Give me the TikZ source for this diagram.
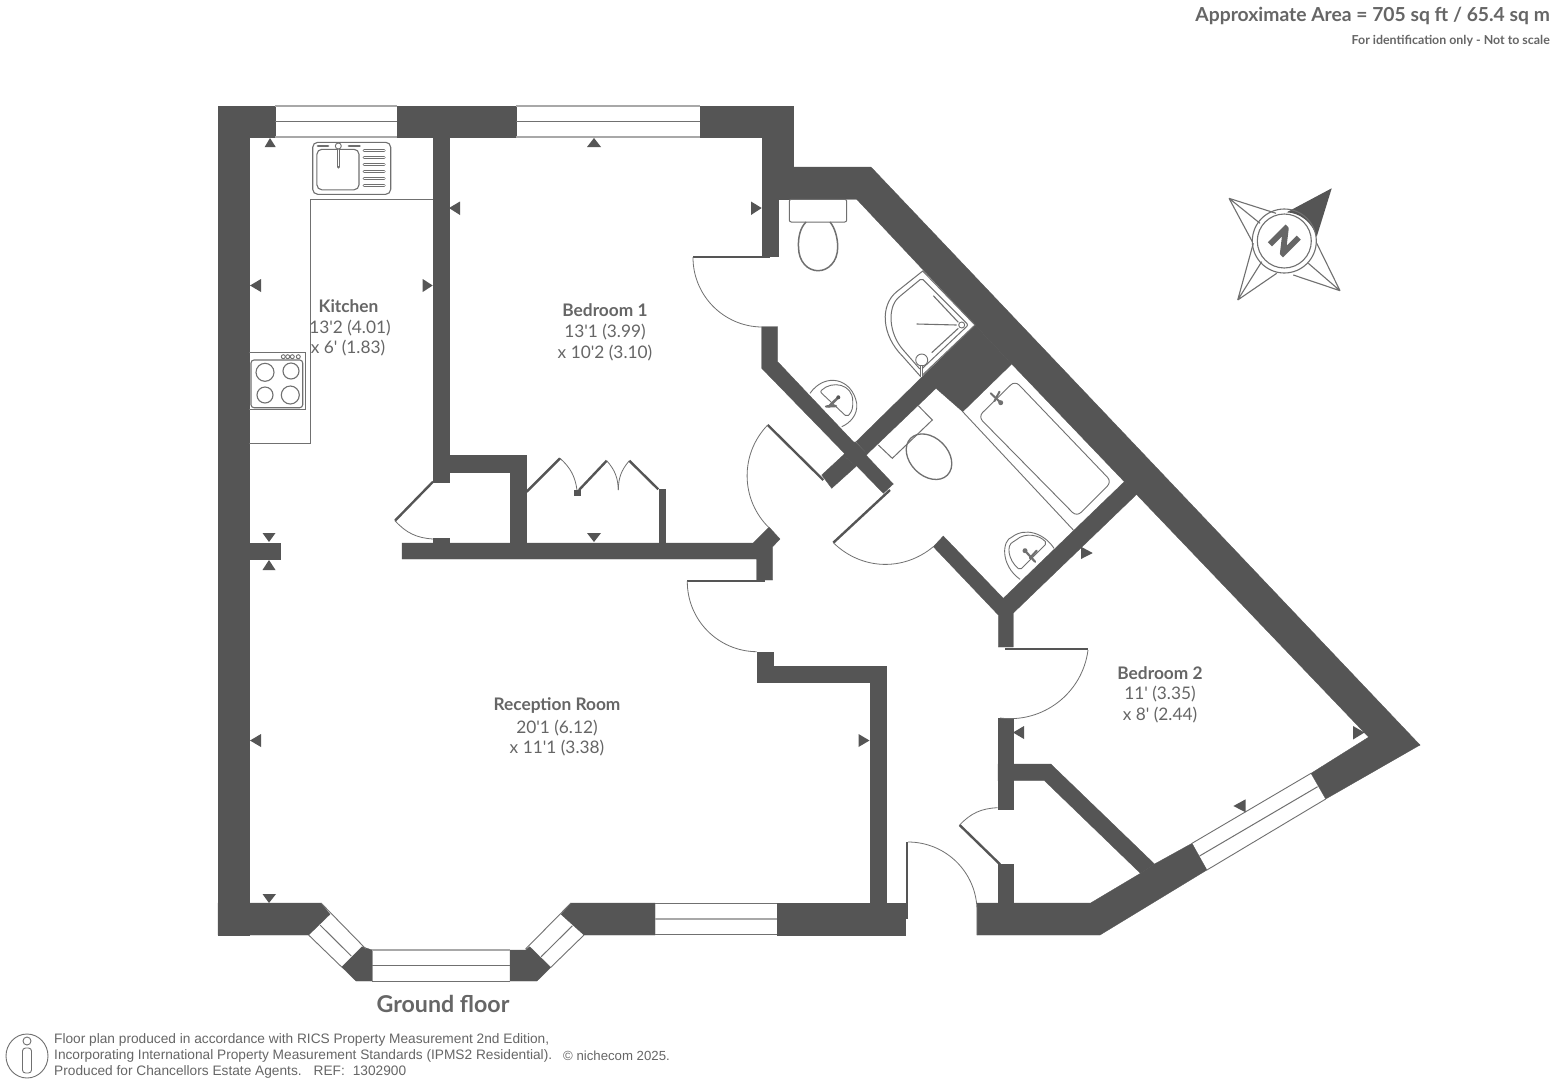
\documentclass[tikz,border=0pt]{standalone}
\usepackage{fontspec}
\setmainfont{Lato}[Ligatures=TeXOff]
\newfontfamily\footfont{Liberation Sans}
\newfontfamily\compassfont{Lato}[BoldFeatures={FakeBold=6}]
\definecolor{wallc}{HTML}{555555}
\definecolor{textc}{HTML}{666666}
\definecolor{fixc}{HTML}{707070}
\definecolor{glasspale}{HTML}{A8A8A8}
\tikzset{
  wallfill/.style={fill=wallc,draw=wallc,line width=0.3pt},
  glass/.style={draw=fixc,line width=0.9pt},
  glasslight/.style={draw=glasspale,line width=1.2pt},
  glassmid/.style={draw=fixc,line width=1pt},
  fixline/.style={draw=fixc,line width=0.9pt},
  fixthick/.style={draw=fixc,line width=1.5pt},
  leaf/.style={draw=wallc,line width=2.4pt},
  swing/.style={draw=fixc,line width=0.8pt},
  marker/.style={fill=wallc,draw=none},
  roomname/.style={font=\fontsize{17.3}{19}\selectfont\bfseries,text=textc,inner sep=0pt},
  roomdim/.style={font=\fontsize{17.3}{19}\selectfont,text=textc,inner sep=0pt},
}
\begin{document}
\begin{tikzpicture}[x=1pt,y=-1pt]
\fill[white] (0,0) rectangle (1552,1085);
\useasboundingbox (0,0) rectangle (1552,1085);
% ---- walls
\path[wallfill] (218,106) rectangle (249,543);
\path[wallfill] (218,543) rectangle (280,559);
\path[wallfill] (218,559) rectangle (249,934.8);
\path[wallfill] (218,106) rectangle (275,137);
\path[wallfill] (397,106) rectangle (516,137);
\path[wallfill] (700,106) rectangle (793,137);
\path[wallfill] (433,137) rectangle (449,482);
\path[wallfill] (433,455) rectangle (526,472);
\path[wallfill] (510,455) rectangle (526,545);
\path[wallfill] (433,538) rectangle (449,545);
\path[wallfill] (574.5,490) rectangle (580,495);
\path[wallfill] (402,543) -- (753,543) -- (769,527) -- (780,539) -- (772.7,546.7) -- (772.7,580) -- (756.7,580) -- (756.7,559) -- (402,559) -- cycle;
\path[wallfill] (659,489) rectangle (665,545);
\path[wallfill] (756.7,652) rectangle (772.7,682);
\path[wallfill] (756.7,666.5) rectangle (886,682);
\path[wallfill] (870,666.5) rectangle (886,905);
% bottom and bay
\path[wallfill] (218,903) -- (321,903) -- (330,914.3) -- (308.6,935) -- (218,935) -- cycle;
\path[wallfill] (362,946.7) -- (372.4,950) -- (372.4,981) -- (356,981) -- (341.7,967) -- cycle;
\path[wallfill] (510,950) -- (525.6,950) -- (529.7,946.7) -- (550.8,967.3) -- (537,981) -- (510,981) -- cycle;
\path[wallfill] (571,903) -- (655,903) -- (655,935) -- (584,935) -- (561,914.3) -- cycle;
\path[wallfill] (777,903) rectangle (905,935);
% right side
\path[wallfill] (761.7,137) rectangle (777.7,256);
\path[wallfill] (761.7,137) rectangle (793,199.3);
\path[wallfill] (793,167) -- (871,167) -- (1420,745) -- (1360,760) -- (1368.5,737) -- (1124.3,481.7) -- (1011.7,364) -- (975,325) -- (856.7,199.3) -- (785,199.3) -- (785,167) -- cycle;
\path[wallfill] (975,325) -- (1011.7,364) -- (962.7,411.7) -- (936,388.3) -- (867.3,454) -- (856,441.7) -- cycle;
\path[wallfill] (761.7,326.7) -- (777.7,326.7) -- (777.7,361.7) -- (893.3,484) -- (883.3,493.3) -- (761.7,368.3) -- cycle;
\path[wallfill] (821.7,475) -- (843.3,455) -- (855.7,466.7) -- (831.7,488.3) -- cycle;
\path[wallfill] (843.3,455) -- (855,441.7) -- (867.3,454) -- (855.7,466.7) -- cycle;
% bathroom / bedroom 2 wall
\path[wallfill] (1124.3,481.7) -- (1137,494) -- (1013.3,613) -- (1003.3,598.3) -- cycle;
\path[wallfill] (943.3,536) -- (1003.3,598.3) -- (1013.3,609) -- (1013.3,647) -- (998.3,647) -- (998.3,615) -- (933.3,546.7) -- cycle;
\path[wallfill] (998,718) rectangle (1013,809);
\path[wallfill] (998,864.3) rectangle (1013,905);
\path[wallfill] (998,764) -- (1050.8,764) -- (1154.5,864) -- (1140.4,873.3) -- (1044.5,780.7) -- (998,780.7) -- cycle;
\path[wallfill] (977,903) -- (1090.6,903) -- (1140.4,873.3) -- (1154.5,864) -- (1192,843.3) -- (1206.9,870) -- (1100,935) -- (977,935) -- cycle;
\path[wallfill] (1311,773.3) -- (1369.3,736.7) -- (1420,745) -- (1325.7,799) -- cycle;
% ---- door leaves
\draw[leaf] (693,257) -- (770,257);
\draw[leaf] (433,481.7) -- (395,520.7);
\draw[leaf] (526.7,491.7) -- (560,458.3);
\draw[leaf] (579,490) -- (606.7,460.7);
\draw[leaf] (629.3,460.7) -- (658.3,489.3);
\draw[leaf] (767.7,425) -- (823.3,480);
\draw[leaf] (833.3,542.7) -- (890,490);
\draw[leaf] (687,581) -- (765,581);
\draw[leaf] (1005,649) -- (1088,649);
\draw[leaf] (959.6,825) -- (1000,864.3);
\draw[leaf] (907,842) -- (907,919);
% ---- door swings
\draw[swing] (693,257) to[bend right=45] (762,327);
\draw[swing] (395,520.7) to[bend right=22] (433,539);
\draw[swing] (560,458.3) to[bend left=20] (577,490);
\draw[swing] (606.7,460.7) to[bend left=20] (618.3,490);
\draw[swing] (629.3,460.7) to[bend right=20] (618.3,490);
\draw[swing] (767.7,425) to[bend right=45] (769.3,528);
\draw[swing] (833.3,542.7) to[bend right=42] (933.3,546.7);
\draw[swing] (687.3,581) to[bend right=45] (756.7,651.7);
\draw[swing] (1088,650) to[bend left=45] (1000,718);
\draw[swing] (959.6,825) to[bend left=22] (997.6,807.7);
\draw[swing] (908,842) to[bend left=45] (977,911) -- (977,935);
% ---- windows
\foreach \xa/\xb in {275/397, 516/700}{
  \draw[glasslight] (\xa,106) -- (\xb,106);
  \draw[glasslight] (\xa,137) -- (\xb,137);
  \draw[glassmid] (\xa,121) -- (\xb,121);
}
\draw[glass] (655,903.5) -- (777,903.5);
\draw[glass] (655,934.5) -- (777,934.5);
\draw[glasslight] (655,919) -- (777,919);
\draw[glasslight] (372.4,950) -- (510,950);
\draw[glass] (372.4,981) -- (510,981);
\draw[glassmid] (372.4,965) -- (510,965);
\draw[glass] (321,903) -- (366,949);
\draw[glass] (308.6,935) -- (341.7,967);
\draw[glassmid] (320,925) -- (351.3,956);
\draw[glass] (525.6,949) -- (571,903);
\draw[glass] (550.8,967.3) -- (584,935);
\draw[glassmid] (541.2,956.7) -- (572.4,925.7);
\draw[glass] (1192,843.3) -- (1311,773.3);
\draw[glass] (1206.9,870) -- (1325.7,799);
\draw[glassmid] (1199.5,856) -- (1317.6,786.7);
% ---- kitchen fittings
\draw[fixline] (433,199) -- (310,199) -- (310,443) -- (249,443);
\draw[fixline] (249,352.7) -- (305,352.7) -- (305,409.3) -- (249,409.3);
\draw[fixthick,line width=1.1pt,rounded corners=3pt] (251,360) rectangle (302.7,407.7);
\foreach \cx/\cy/\r in {265/372.3/9,291/371/8,265/395/8,290.3/395/9}{
  \draw[fixthick,line width=1.1pt] (\cx,\cy) circle[radius=\r pt];
}
\foreach \cx in {283.3,287.7,292.3,298.3}{ \draw[fixline] (\cx,356.7) circle[radius=2pt]; }
\draw[fixline,rounded corners=5pt,line width=1.1pt] (312.7,142.3) rectangle (390.7,194.3);
\draw[fixline,rounded corners=5pt,line width=1.1pt] (316.9,149.3) rectangle (359,189.8);
\foreach \dy in {150.3,157.3,164.3,171.3,178.3,185.7}{
  \draw[fixline,line width=3pt,line cap=round] (364.2,\dy) -- (384.2,\dy);
  \draw[white,line width=1.3pt,line cap=round] (364.2,\dy) -- (384.2,\dy);
}
\draw[fixline,line width=3.4pt,line cap=round] (338.3,150) -- (338.3,167);
\draw[white,line width=1.5pt,line cap=round] (338.3,150) -- (338.3,165.5);
\draw[fixline,fill=white] (338.3,146) circle[radius=3pt];
\draw[fixline,line width=2.8pt,line cap=round] (318,146) -- (328,146);
\draw[fixline,line width=2.8pt,line cap=round] (349,146) -- (359.5,146);
% ---- ensuite 1
\draw[fixline,rounded corners=2pt,line width=1pt] (789.3,199.3) rectangle (846.7,222);
\draw[fixline,line width=1.5pt] (806,222) .. controls (800,228) and (798,238) .. (798.5,247) .. controls (798.5,262) and (808,270.7) .. (818,270.7) .. controls (828,270.7) and (837.7,262) .. (837.7,247) .. controls (837.7,238) and (835,228) .. (830,222);
\draw[fixline,line width=1pt] (922.7,271) -- (896.7,291.7) .. controls (880,305) and (881,335) .. (903,356.7) -- (920.7,376.7) -- (975,325) -- cycle;
\draw[fixline,line width=1pt,rounded corners=2pt] (921.7,278.3) -- (899,297) .. controls (888,308) and (888,333) .. (905,352) -- (920.7,370) -- (968.3,325) -- cycle;
\draw[fixline,line width=1.1pt] (916.7,324) -- (956.7,325);
\draw[fixline,line width=1.1pt] (933.3,295.7) -- (958.3,322.3);
\draw[fixline,line width=1.1pt] (931.7,352.7) -- (958.3,328.3);
\draw[fixline] (961.7,325) circle[radius=3pt];
\draw[fixline,fill=white] (921.7,360) circle[radius=6pt];
\draw[fixline,line width=2.8pt] (921.7,365) -- (921.7,377);
\draw[white,line width=1pt] (921.7,366) -- (921.7,377);
\draw[fixline] (810,393.3) .. controls (825,372) and (852,378) .. (856.7,403.3) .. controls (858,415) and (850,423) .. (841.7,426.7);
\draw[fixline,rounded corners=2pt] (820,391.7) .. controls (832,380) and (853,384) .. (852.7,403.3) .. controls (852.7,410) and (850,414) .. (846.7,416.7) -- cycle;
\draw[fixline,line width=2.6pt,line cap=round] (838.3,397.3) -- (829,406.5);
\draw[fixline,line width=2.4pt,line cap=round] (826,406.5) -- (836,406);
\fill[wallc] (838.3,397.3) circle[radius=2pt];
% ---- ensuite 2
\draw[fixline,line width=1pt] (918.3,405.7) -- (932.3,420) -- (892.3,458.3) -- (878.3,445);
\begin{scope}[shift={(929,456.7)},rotate=-45]
\draw[fixline,line width=1.3pt] (0,0) ellipse[x radius=26pt,y radius=19pt];
\end{scope}
\draw[fixline] (962.7,411.7) -- (1073.3,530);
\draw[fixline,rounded corners=6pt] (1015,380.7) -- (1111.7,481.7) -- (1076.7,516.7) -- (978.3,416.7) -- cycle;
\draw[fixline,line width=2pt,line cap=round] (990.7,393.3) -- (1000.7,402.7);
\draw[fixline,line width=2pt,line cap=round] (999.5,391.7) -- (994.5,401);
\fill[fixc] (1000.7,402.7) circle[radius=2.5pt];
\draw[fixline] (1020,579.3) .. controls (1000,565) and (1002,540) .. (1012,537) .. controls (1025,527) and (1044,533) .. (1054,548.3);
\draw[fixline,rounded corners=2pt] (1020,570) .. controls (1008,560) and (1006,545) .. (1015,541) .. controls (1025,532) and (1040,535) .. (1046.7,543.3) -- cycle;
\draw[fixline,line width=2.2pt,line cap=round] (1025,550.7) -- (1035,561.7);
\draw[fixline,line width=2.2pt,line cap=round] (1036.7,550.7) -- (1030,558);
\fill[fixc] (1025,550.7) circle[radius=2.5pt];
% ---- measurement markers
\fill[marker] (270,138) -- (275.7,147) -- (264.7,147) -- cycle;
\fill[marker] (594,138) -- (601,147) -- (587,147) -- cycle;
\fill[marker] (449,208) -- (460,201.5) -- (460,215) -- cycle;
\fill[marker] (250,285.5) -- (261,279) -- (261,292) -- cycle;
\fill[marker] (432.7,285.5) -- (422.7,279) -- (422.7,292) -- cycle;
\fill[marker] (761.7,208) -- (751,201.5) -- (751,215) -- cycle;
\fill[marker] (269,542) -- (262.5,533) -- (275.5,533) -- cycle;
\fill[marker] (269,560) -- (262.5,570) -- (275.5,570) -- cycle;
\fill[marker] (594,542) -- (587,533) -- (601,533) -- cycle;
\fill[marker] (250,740.5) -- (261,734) -- (261,747) -- cycle;
\fill[marker] (869.5,740.5) -- (858.5,734) -- (858.5,747) -- cycle;
\fill[marker] (269,903) -- (262.5,894) -- (276,894) -- cycle;
\fill[marker] (1092.7,553) -- (1081,546.7) -- (1081,559) -- cycle;
\fill[marker] (1013,732.5) -- (1024,726) -- (1024,739) -- cycle;
\fill[marker] (1364.5,732.5) -- (1353,726) -- (1353,739.5) -- cycle;
\fill[marker] (1233.4,806) -- (1245.6,799.3) -- (1245.6,812.3) -- cycle;
% ---- compass
\fill[wallc] (1331.7,188.3) -- (1286.7,212.3) .. controls (1300,213) and (1312,222) .. (1316.7,236.7) -- cycle;
\draw[fixline,line width=1.1pt] (1229,198.3) -- (1276,213.3) (1229,198.3) -- (1252.3,241.7) (1229,198.3) -- (1260,223.3);
\draw[fixline,line width=1.1pt] (1340,290.7) -- (1316.7,243.3) (1340,290.7) -- (1293.3,275) (1340,290.7) -- (1308.3,263.3);
\draw[fixline,line width=1.1pt] (1237.7,300) -- (1253.3,243.3) (1237.7,300) -- (1276.7,273.3) (1237.7,300) -- (1261.7,261.7);
\draw[fixline,line width=1.1pt] (1284.3,241) circle[radius=32pt];
\draw[fixline,line width=1.1pt] (1284.3,241) circle[radius=27pt];
\node[rotate=-45,font=\compassfont\fontsize{32}{32}\selectfont\bfseries,text=textc,inner sep=0pt] (compassn) at (1284.3,241) {N};
% ---- texts
\node[anchor=east,font=\fontsize{19.3}{21}\selectfont\bfseries,text=textc,inner sep=0pt] (area) at (1550,15.5) {Approximate Area = 705 sq ft / 65.4 sq m};
\node[anchor=east,font=\fontsize{12.4}{14}\selectfont\bfseries,text=textc,inner sep=0pt] (ident) at (1550,40.5) {For identification only - Not to scale};
\node[roomname] (kitchen) at (348.5,306) {Kitchen};
\node[roomdim] (kitchena) at (350,328) {13'2 (4.01)};
\node[roomdim] (kitchenb) at (348,348) {x 6' (1.83)};
\node[roomname] (bed1) at (605,310) {Bedroom 1};
\node[roomdim] (bed1a) at (605,332) {13'1 (3.99)};
\node[roomdim] (bed1b) at (605,353) {x 10'2 (3.10)};
\node[roomname] (recep) at (557,706) {Reception Room};
\node[roomdim] (recepa) at (557,728) {20'1 (6.12)};
\node[roomdim] (recepb) at (557,748) {x 11'1 (3.38)};
\node[roomname] (bed2) at (1160,673) {Bedroom 2};
\node[roomdim] (bed2a) at (1160,694) {11' (3.35)};
\node[roomdim] (bed2b) at (1160,715) {x 8' (2.44)};
\node[font=\fontsize{23.2}{25}\selectfont\bfseries,text=textc,inner sep=0pt] (floor) at (443,1004) {Ground floor};
% ---- footer
\draw[fixline] (27,1056) ellipse[x radius=21pt,y radius=22pt];
\draw[fixline] (27,1041) circle[radius=4pt];
\draw[fixline,rounded corners=3pt] (22.5,1048) rectangle (31.5,1073);
\begin{scope}[every node/.style={anchor=west,inner sep=0pt,font=\footfont\fontsize{13.7}{15}\selectfont,text=textc}]
\node (foota) at (54,1040) {Floor plan produced in accordance with RICS Property Measurement 2nd Edition,};
\node (footb) at (54,1056) {Incorporating International Property Measurement Standards (IPMS2 Residential).};
\node (footc) at (54,1072) {Produced for Chancellors Estate Agents.\hspace{12pt}REF:\hspace{8pt}1302900};
\node[font=\footfont\fontsize{13.2}{15}\selectfont] (footd) at (563,1056) {© nichecom 2025.};
\end{scope}
\end{tikzpicture}
\end{document}
